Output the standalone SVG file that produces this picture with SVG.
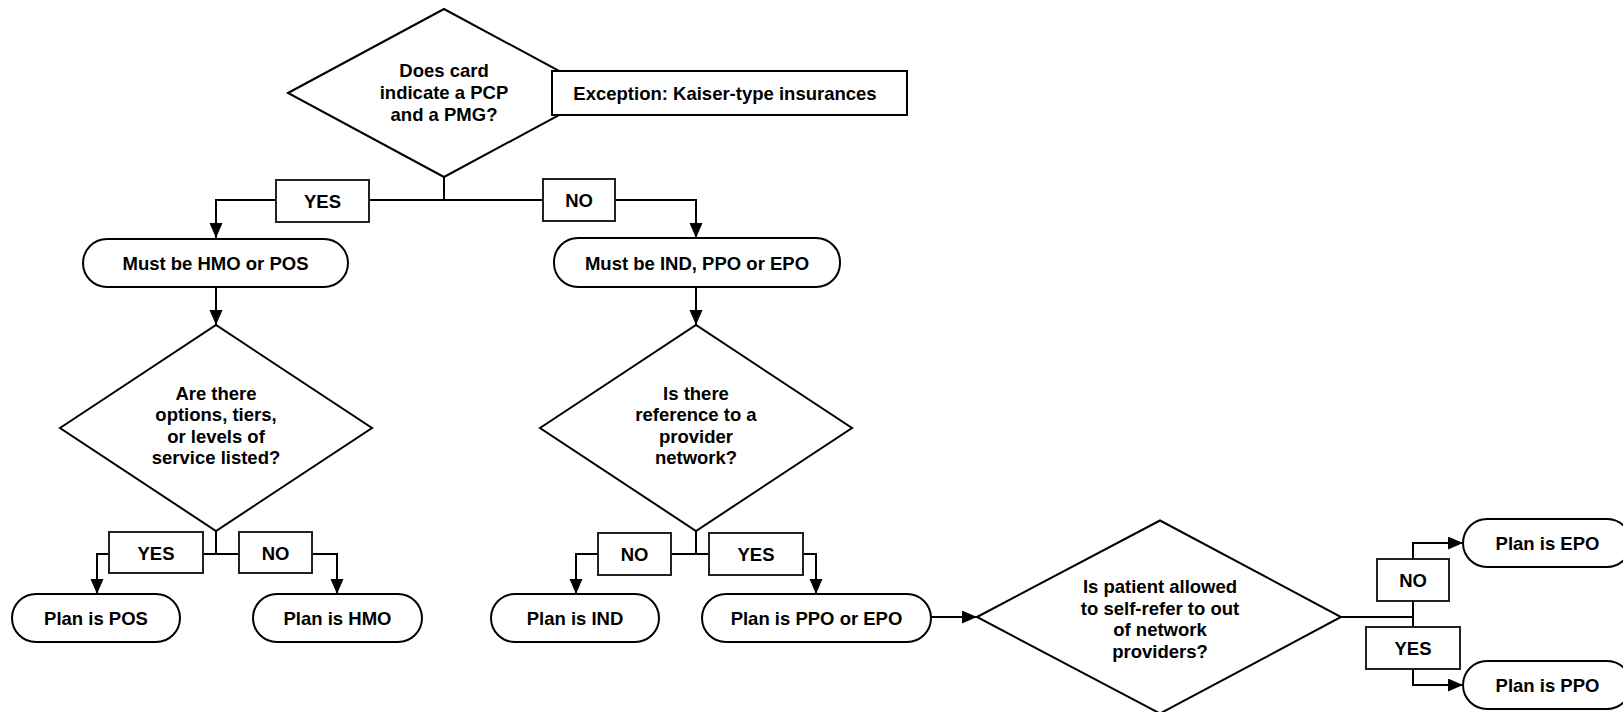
<svg xmlns="http://www.w3.org/2000/svg" width="1623" height="712" viewBox="0 0 1623 712">
<style>
.shape{fill:#fff;stroke:#000;stroke-width:2}
.lbl{fill:#fff;stroke:#222;stroke-width:2}
.conn{fill:none;stroke:#000;stroke-width:2}
text{font-family:"Liberation Sans",Arial,Helvetica,sans-serif;font-weight:bold;font-size:18.5px;text-anchor:middle;fill:#000}
</style>
<defs>
<marker id="arr" markerUnits="userSpaceOnUse" markerWidth="16" markerHeight="14" refX="15" refY="6.5" orient="auto">
<path d="M0,0 L15,6.5 L0,13 Z" fill="#000"/>
</marker>
</defs>
<rect width="1623" height="712" fill="#fff"/>
<g id="connectors">
<path class="conn" d="M444,177 V200"/>
<path class="conn" d="M444,200 H216 V238" marker-end="url(#arr)"/>
<path class="conn" d="M444,200 H696 V238" marker-end="url(#arr)"/>
<path class="conn" d="M216,287 V325" marker-end="url(#arr)"/>
<path class="conn" d="M696,287 V325" marker-end="url(#arr)"/>
<path class="conn" d="M216,531 V554 H97 V594" marker-end="url(#arr)"/>
<path class="conn" d="M216,554 H337 V594" marker-end="url(#arr)"/>
<path class="conn" d="M696,531 V554 H576 V594" marker-end="url(#arr)"/>
<path class="conn" d="M696,554 H816 V594" marker-end="url(#arr)"/>
<path class="conn" d="M931,617 H977" marker-end="url(#arr)"/>
<path class="conn" d="M1341,617 H1413"/>
<path class="conn" d="M1413,617 V543 H1463" marker-end="url(#arr)"/>
<path class="conn" d="M1413,617 V685 H1463" marker-end="url(#arr)"/>
</g>
<g id="q1">
<polygon class="shape" points="288,93 444,9 600,93 444,177"/>
<text x="444" y="77">Does card</text>
<text x="444" y="99">indicate a PCP</text>
<text x="444" y="121">and a PMG?</text>
</g>
<g id="exception">
<rect class="shape" x="552" y="71" width="355" height="44"/>
<text x="725" y="99.5">Exception: Kaiser-type insurances</text>
</g>
<g id="lbl-yes-1">
<rect class="lbl" x="276" y="180" width="93" height="42"/>
<text x="322.5" y="207.6">YES</text>
</g>
<g id="lbl-no-1">
<rect class="lbl" x="543" y="179" width="72" height="42"/>
<text x="579" y="206.6">NO</text>
</g>
<g id="hmo-pos">
<rect class="shape" x="83" y="239" width="265" height="48" rx="24" ry="24"/>
<text x="215.5" y="269.6">Must be HMO or POS</text>
</g>
<g id="ind-ppo-epo">
<rect class="shape" x="554" y="238" width="286" height="49" rx="24" ry="24"/>
<text x="697" y="269.6">Must be IND, PPO or EPO</text>
</g>
<g id="q2">
<polygon class="shape" points="60,428 216,325 372,428 216,531"/>
<text x="216" y="399.5">Are there</text>
<text x="216" y="421">options, tiers,</text>
<text x="216" y="442.7">or levels of</text>
<text x="216" y="464.3">service listed?</text>
</g>
<g id="q3">
<polygon class="shape" points="540,428 696,325 852,428 696,531"/>
<text x="696" y="399.5">Is there</text>
<text x="696" y="421">reference to a</text>
<text x="696" y="442.7">provider</text>
<text x="696" y="464.3">network?</text>
</g>
<g id="lbl-yes-2">
<rect class="lbl" x="109" y="532" width="94" height="41"/>
<text x="156" y="559.6">YES</text>
</g>
<g id="lbl-no-2">
<rect class="lbl" x="239" y="532" width="73" height="41"/>
<text x="275.5" y="559.6">NO</text>
</g>
<g id="lbl-no-3">
<rect class="lbl" x="598" y="533" width="73" height="42"/>
<text x="634.5" y="560.6">NO</text>
</g>
<g id="lbl-yes-3">
<rect class="lbl" x="709" y="533" width="94" height="42"/>
<text x="756" y="560.6">YES</text>
</g>
<g id="plan-pos">
<rect class="shape" x="12" y="594" width="168" height="48" rx="24" ry="24"/>
<text x="96" y="624.6">Plan is POS</text>
</g>
<g id="plan-hmo">
<rect class="shape" x="253" y="594" width="169" height="48" rx="24" ry="24"/>
<text x="337.5" y="624.6">Plan is HMO</text>
</g>
<g id="plan-ind">
<rect class="shape" x="491" y="594" width="168" height="48" rx="24" ry="24"/>
<text x="575" y="624.6">Plan is IND</text>
</g>
<g id="plan-ppo-epo">
<rect class="shape" x="702" y="594" width="229" height="48" rx="24" ry="24"/>
<text x="816.5" y="624.6">Plan is PPO or EPO</text>
</g>
<g id="q4">
<polygon class="shape" points="977,617 1160,520.5 1341,617 1160,713.5"/>
<text x="1160" y="593">Is patient allowed</text>
<text x="1160" y="614.5">to self-refer to out</text>
<text x="1160" y="636">of network</text>
<text x="1160" y="657.5">providers?</text>
</g>
<g id="lbl-no-4">
<rect class="lbl" x="1377" y="559" width="72" height="42"/>
<text x="1413" y="586.6">NO</text>
</g>
<g id="lbl-yes-4">
<rect class="lbl" x="1366" y="627" width="94" height="42"/>
<text x="1413" y="654.6">YES</text>
</g>
<g id="plan-epo">
<rect class="shape" x="1463" y="519" width="168" height="48" rx="24" ry="24"/>
<text x="1547.5" y="549.6">Plan is EPO</text>
</g>
<g id="plan-ppo">
<rect class="shape" x="1463" y="661" width="168" height="48" rx="24" ry="24"/>
<text x="1547.5" y="691.6">Plan is PPO</text>
</g>
</svg>
